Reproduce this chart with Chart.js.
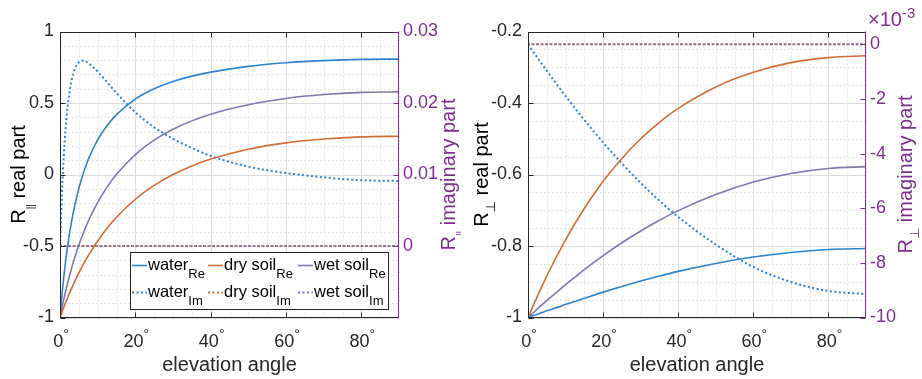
<!DOCTYPE html>
<html>
<head>
<meta charset="utf-8">
<script src="https://cdn.jsdelivr.net/npm/chart.js@4.4.1/dist/chart.umd.min.js"></script>
<style>
  html, body { margin: 0; padding: 0; background: #fff; }
  #wrap { position: relative; width: 922px; height: 379px; }
  canvas { position: absolute; top: 0; }
</style>
</head>
<body>
<div id="wrap">
  <canvas id="parChart" width="461" height="379" style="left:0"></canvas>
  <canvas id="perpChart" width="461" height="379" style="left:461px"></canvas>
</div>
<script>
// elevation angle samples (deg)
const angles = [0, 0.5, 1, 1.5, 2, 3, 4, 5, 6, 7, 8, 10, 12.5, 15, 20, 25, 30, 35, 40, 50, 60, 70, 80, 90];

// R parallel, real part
const waterParRe = [-1, -0.848, -0.717, -0.604, -0.505, -0.339, -0.206, -0.098, -0.007, 0.070, 0.135, 0.242, 0.342, 0.419, 0.527, 0.599, 0.650, 0.688, 0.716, 0.756, 0.781, 0.796, 0.805, 0.807];
const dryParRe = [-1, -0.964, -0.929, -0.895, -0.862, -0.800, -0.743, -0.688, -0.638, -0.590, -0.546, -0.465, -0.376, -0.299, -0.173, -0.076, 0, 0.060, 0.108, 0.177, 0.221, 0.248, 0.263, 0.268];
const wetParRe = [-1, -0.934, -0.873, -0.816, -0.761, -0.662, -0.574, -0.494, -0.423, -0.358, -0.299, -0.195, -0.088, 0.001, 0.139, 0.240, 0.316, 0.375, 0.422, 0.488, 0.532, 0.559, 0.574, 0.578];
// R parallel, imaginary part
const waterParIm = [0, 0.0073, 0.0126, 0.0165, 0.0194, 0.0230, 0.0248, 0.0257, 0.0259, 0.0258, 0.0254, 0.0244, 0.0229, 0.0214, 0.0187, 0.0166, 0.0150, 0.0137, 0.0126, 0.0111, 0.0102, 0.0096, 0.0092, 0.0091];
const dryParIm = [0, 0, 0, 0, 0, 0, 0, 0, 0, 0, 0, 0, 0, 0, 0, 0, 0, 0, 0, 0, 0, 0, 0, 0];
const wetParIm = [0, 0, 0, 0, 0, 0, 0, 0, 0, 0, 0, 0, 0, 0, 0, 0, 0, 0, 0, 0, 0, 0, 0, 0];

// R perpendicular, real part
const waterPerpRe = [-1, -0.998, -0.996, -0.994, -0.993, -0.989, -0.985, -0.981, -0.978, -0.974, -0.971, -0.963, -0.955, -0.946, -0.929, -0.913, -0.898, -0.884, -0.871, -0.849, -0.831, -0.818, -0.810, -0.807];
const dryPerpRe = [-1, -0.988, -0.976, -0.964, -0.952, -0.929, -0.906, -0.884, -0.863, -0.842, -0.822, -0.783, -0.737, -0.695, -0.619, -0.555, -0.500, -0.454, -0.415, -0.355, -0.314, -0.287, -0.273, -0.268];
const wetPerpRe = [-1, -0.995, -0.990, -0.986, -0.981, -0.971, -0.962, -0.953, -0.944, -0.935, -0.926, -0.908, -0.887, -0.866, -0.827, -0.791, -0.758, -0.728, -0.701, -0.656, -0.621, -0.597, -0.583, -0.578];
// R perpendicular, imaginary part (x 10^-3)
const waterPerpIm = [0, -0.098, -0.197, -0.294, -0.392, -0.585, -0.777, -0.967, -1.156, -1.342, -1.527, -1.891, -2.336, -2.768, -3.592, -4.361, -5.073, -5.726, -6.320, -7.329, -8.150, -8.700, -9.030, -9.140];
const dryPerpIm = [0, 0, 0, 0, 0, 0, 0, 0, 0, 0, 0, 0, 0, 0, 0, 0, 0, 0, 0, 0, 0, 0, 0, 0];
const wetPerpIm = [0, 0, 0, 0, 0, 0, 0, 0, 0, 0, 0, 0, 0, 0, 0, 0, 0, 0, 0, 0, 0, 0, 0, 0];

// axis ticks
const xTicks = [0, 20, 40, 60, 80];
const parReTicks = [-1, -0.5, 0, 0.5, 1];
const parImTicks = [0, 0.01, 0.02, 0.03];
const perpReTicks = [-1, -0.8, -0.6, -0.4, -0.2];
const perpImTicks = [-10, -8, -6, -4, -2, 0];

const FONT = "'Liberation Sans', Arial, Helvetica, 'DejaVu Sans', sans-serif";
const DARK = '#262626';
const PURPLE = '#7E2F8E';
const C_WATER = '#2c83cf';
const C_DRY = '#d26d34';
const C_WET = '#7c7aae';

function pts(vals) {
  return angles.map((a, i) => ({ x: a, y: vals[i] }));
}
function solid(label, vals, color) {
  return { label, data: pts(vals), borderColor: color, borderWidth: 1.6, pointRadius: 0,
           cubicInterpolationMode: 'monotone', yAxisID: 'y', fill: false };
}
function dotted(label, vals, color, offset) {
  return { label, data: pts(vals), borderColor: color, borderWidth: 2, borderDash: [2, 2.5],
           borderDashOffset: offset || 0, pointRadius: 0, cubicInterpolationMode: 'monotone',
           yAxisID: 'y1', fill: false };
}

// text with sub/superscripts: parts = [{t, s, dy}]
function richWidth(ctx, parts) {
  let w = 0;
  for (const p of parts) { ctx.font = p.s + 'px ' + FONT; w += ctx.measureText(p.t).width; }
  return w;
}
function drawRich(ctx, x, y, parts) {
  let cx = x;
  for (const p of parts) {
    ctx.font = p.s + 'px ' + FONT;
    ctx.fillText(p.t, cx, y + (p.dy || 0));
    cx += ctx.measureText(p.t).width;
  }
}
function drawVertical(ctx, x, y, parts, color) {
  ctx.save();
  ctx.translate(x, y);
  ctx.rotate(-Math.PI / 2);
  ctx.fillStyle = color;
  ctx.textAlign = 'left';
  ctx.textBaseline = 'alphabetic';
  drawRich(ctx, -richWidth(ctx, parts) / 2, 0, parts);
  ctx.restore();
}

function stepValues(min, max, step) {
  const out = [];
  const n = Math.round((max - min) / step);
  for (let k = 0; k <= n; k++) out.push(+(min + k * step).toFixed(6));
  return out;
}

const framePlugin = {
  id: 'frame',
  beforeDatasetsDraw(chart, args, o) {
    const { ctx, chartArea: a, scales } = chart;
    const xs = scales.x, ys = scales.y;
    ctx.save();
    ctx.lineWidth = 1;
    // minor grid
    ctx.strokeStyle = '#e6e6e6';
    ctx.setLineDash([2, 2]);
    ctx.beginPath();
    for (const v of stepValues(0, 90, o.xMinor)) {
      if (xTicks.includes(v)) continue;
      const px = Math.round(xs.getPixelForValue(v)) + 0.5;
      ctx.moveTo(px, a.top); ctx.lineTo(px, a.bottom);
    }
    for (const v of stepValues(ys.min, ys.max, o.yMinor)) {
      if (o.yMajor.some(m => Math.abs(m - v) < 1e-6)) continue;
      const py = Math.round(ys.getPixelForValue(v)) + 0.5;
      ctx.moveTo(a.left, py); ctx.lineTo(a.right, py);
    }
    ctx.stroke();
    // major grid
    ctx.setLineDash([]);
    ctx.strokeStyle = '#dcdcdc';
    ctx.beginPath();
    for (const v of xTicks) {
      const px = Math.round(xs.getPixelForValue(v)) + 0.5;
      ctx.moveTo(px, a.top); ctx.lineTo(px, a.bottom);
    }
    for (const v of o.yMajor) {
      const py = Math.round(ys.getPixelForValue(v)) + 0.5;
      ctx.moveTo(a.left, py); ctx.lineTo(a.right, py);
    }
    ctx.stroke();
    ctx.restore();
  },
  afterDatasetsDraw(chart, args, o) {
    const { ctx, chartArea: a, scales } = chart;
    const xs = scales.x, ys = scales.y, y1 = scales.y1;
    const L = Math.round(a.left) + 0.5, R = Math.round(a.right) - 0.5;
    const T = Math.round(a.top) + 0.5, B = Math.round(a.bottom) - 0.5;
    ctx.save();
    ctx.lineWidth = 1;
    // legend box
    if (o.legend) {
      const lg = o.legend;
      ctx.fillStyle = '#fff';
      ctx.fillRect(lg.x, lg.y, lg.w, lg.h);
      ctx.strokeStyle = DARK;
      ctx.strokeRect(lg.x + 0.5, lg.y + 0.5, lg.w, lg.h);
      ctx.textBaseline = 'alphabetic';
      ctx.textAlign = 'left';
      lg.items.forEach((it, i) => {
        const col = i % 3, row = Math.floor(i / 3);
        const lx = lg.cols[col], by = lg.rows[row];
        ctx.strokeStyle = it.color;
        ctx.lineWidth = it.dash ? 2 : 1.6;
        ctx.setLineDash(it.dash ? [2, 2.5] : []);
        ctx.beginPath();
        ctx.moveTo(lx, by - 4); ctx.lineTo(lx + 15, by - 4);
        ctx.stroke();
        ctx.setLineDash([]);
        ctx.fillStyle = '#000';
        drawRich(ctx, lx + 16, by, [{ t: it.name, s: 16.5 }, { t: it.sub, s: 13, dy: 8.5 }]);
      });
      ctx.lineWidth = 1;
    }
    // box spines
    ctx.strokeStyle = DARK;
    ctx.beginPath();
    ctx.moveTo(L, T); ctx.lineTo(R, T);
    ctx.moveTo(L, B); ctx.lineTo(R, B);
    ctx.moveTo(L, T); ctx.lineTo(L, B);
    // inward ticks, bottom/top/left
    for (const v of xTicks) {
      const px = Math.round(xs.getPixelForValue(v)) + 0.5;
      ctx.moveTo(px, B); ctx.lineTo(px, B - 5);
      ctx.moveTo(px, T); ctx.lineTo(px, T + 5);
    }
    for (const v of o.yMajor) {
      const py = Math.round(ys.getPixelForValue(v)) + 0.5;
      ctx.moveTo(L, py); ctx.lineTo(L + 5, py);
    }
    ctx.stroke();
    // right axis in purple
    ctx.strokeStyle = PURPLE;
    ctx.beginPath();
    ctx.moveTo(R, a.top); ctx.lineTo(R, a.bottom);
    for (const v of o.imTicks) {
      const py = Math.round(y1.getPixelForValue(v)) + 0.5;
      ctx.moveTo(R, py); ctx.lineTo(R - 5, py);
    }
    ctx.stroke();
    ctx.restore();
  },
  afterDraw(chart, args, o) {
    const { ctx, chartArea: a, scales } = chart;
    const xs = scales.x;
    ctx.save();
    ctx.textAlign = 'left';
    ctx.textBaseline = 'alphabetic';
    // x tick labels with degree sign
    ctx.fillStyle = DARK;
    for (const v of xTicks) {
      const px = xs.getPixelForValue(v);
      ctx.font = '18px ' + FONT;
      const nw = ctx.measureText(String(v)).width;
      ctx.font = '14px ' + FONT;
      const dw = ctx.measureText('\u00b0').width;
      const x0 = px - (nw + dw) / 2 + 1;
      ctx.font = '18px ' + FONT;
      ctx.fillText(String(v), x0, 347);
      ctx.font = '14px ' + FONT;
      ctx.fillText('\u00b0', x0 + nw, 338.5);
    }
    // x title
    ctx.fillStyle = DARK;
    ctx.font = '20px ' + FONT;
    ctx.textAlign = 'center';
    ctx.fillText('elevation angle', (a.left + a.right) / 2, 371);
    ctx.textAlign = 'left';
    // y titles
    const cy = (a.top + a.bottom) / 2;
    drawVertical(ctx, o.leftTitleX, cy, o.leftTitle, '#000');
    drawVertical(ctx, o.rightTitleX, cy, o.rightTitle, PURPLE);
    // exponent
    if (o.exponent) {
      ctx.fillStyle = PURPLE;
      drawRich(ctx, o.exponent.x, o.exponent.y, [{ t: '\u00d710', s: 20 }, { t: '-3', s: 15, dy: -8 }]);
    }
    ctx.restore();
  }
};

function makeScales(reMin, reMax, reTicks, imMin, imMax, imTicks, leftW, rightW) {
  const tickFont = { family: FONT, size: 18 };
  return {
    x: {
      type: 'linear', min: 0, max: 90,
      afterFit: s => { s.height = 61.5; },
      ticks: { display: false },
      grid: { display: false, drawTicks: false },
      border: { display: false }
    },
    y: {
      type: 'linear', position: 'left', min: reMin, max: reMax,
      afterFit: s => { s.width = leftW; },
      afterBuildTicks: s => { s.ticks = reTicks.map(v => ({ value: v })); },
      ticks: { font: tickFont, color: DARK, padding: 6, callback: v => String(v) },
      grid: { display: false, drawTicks: false },
      border: { display: false }
    },
    y1: {
      type: 'linear', position: 'right', min: imMin, max: imMax,
      afterFit: s => { s.width = rightW; },
      afterBuildTicks: s => { s.ticks = imTicks.map(v => ({ value: v })); },
      ticks: { font: tickFont, color: PURPLE, padding: 4, callback: v => String(v) },
      grid: { display: false, drawTicks: false },
      border: { display: false }
    }
  };
}

const commonOpts = {
  responsive: false,
  animation: false,
  devicePixelRatio: 1,
  layout: { padding: { top: 31.5, left: 0, right: 0, bottom: 0 } },
  elements: { line: { tension: 0 } }
};

new Chart(document.getElementById('parChart'), {
  type: 'line',
  data: {
    datasets: [
      solid('water Re', waterParRe, C_WATER),
      solid('dry soil Re', dryParRe, C_DRY),
      solid('wet soil Re', wetParRe, C_WET),
      dotted('water Im', waterParIm, C_WATER),
      dotted('wet soil Im', wetParIm, C_WET, 0),
      dotted('dry soil Im', dryParIm, C_DRY, 1)
    ]
  },
  options: Object.assign({}, commonOpts, {
    scales: makeScales(-1, 1, parReTicks, -0.01, 0.03, parImTicks, 60, 62),
    plugins: {
      legend: { display: false },
      tooltip: { enabled: false },
      frame: {
        xMinor: 5, yMinor: 0.1, yMajor: parReTicks, imTicks: parImTicks,
        leftTitleX: 25, rightTitleX: 455,
        leftTitle: [{ t: 'R', s: 20 }, { t: '||', s: 10, dy: 9 }, { t: ' real part', s: 20 }],
        rightTitle: [{ t: 'R', s: 20 }, { t: '||', s: 10, dy: 9 }, { t: ' imaginary part', s: 20 }],
        legend: {
          x: 130, y: 252, w: 258, h: 57,
          cols: [132, 208, 298], rows: [269.5, 296.5],
          items: [
            { name: 'water', sub: 'Re', color: C_WATER },
            { name: 'dry soil', sub: 'Re', color: C_DRY },
            { name: 'wet soil', sub: 'Re', color: C_WET },
            { name: 'water', sub: 'Im', color: C_WATER, dash: true },
            { name: 'dry soil', sub: 'Im', color: C_DRY, dash: true },
            { name: 'wet soil', sub: 'Im', color: C_WET, dash: true }
          ]
        }
      }
    }
  }),
  plugins: [framePlugin]
});

new Chart(document.getElementById('perpChart'), {
  type: 'line',
  data: {
    datasets: [
      solid('water Re', waterPerpRe, C_WATER),
      solid('dry soil Re', dryPerpRe, C_DRY),
      solid('wet soil Re', wetPerpRe, C_WET),
      dotted('water Im', waterPerpIm, C_WATER),
      dotted('wet soil Im', wetPerpIm, C_WET, 0),
      dotted('dry soil Im', dryPerpIm, C_DRY, 1)
    ]
  },
  options: Object.assign({}, commonOpts, {
    scales: makeScales(-1, -0.2, perpReTicks, -10, 0.47, perpImTicks, 67, 56),
    plugins: {
      legend: { display: false },
      tooltip: { enabled: false },
      frame: {
        xMinor: 5, yMinor: 0.05, yMajor: perpReTicks, imTicks: perpImTicks,
        leftTitleX: 27, rightTitleX: 451,
        leftTitle: [{ t: 'R', s: 20 }, { t: '\u22a5', s: 13, dy: 7 }, { t: ' real part', s: 20 }],
        rightTitle: [{ t: 'R', s: 20 }, { t: '\u22a5', s: 13, dy: 7 }, { t: ' imaginary part', s: 20 }],
        exponent: { x: 407, y: 26 }
      }
    }
  }),
  plugins: [framePlugin]
});
</script>
</body>
</html>
